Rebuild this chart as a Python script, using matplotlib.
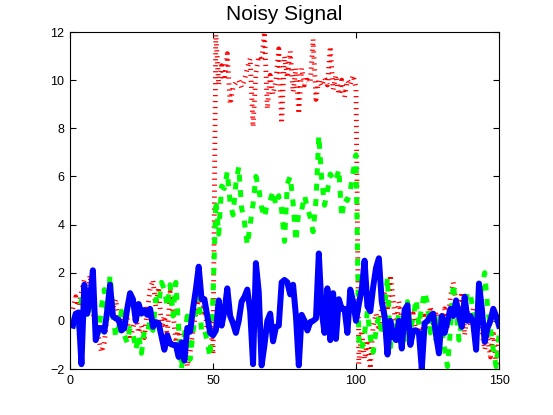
import numpy as np
import matplotlib
matplotlib.use("Agg")
import matplotlib.pyplot as plt

plt.rcParams['font.family'] = ['Liberation Sans', 'DejaVu Sans']
plt.rcParams['lines.scale_dashes'] = False

# sample index 1..150
t = np.arange(1, 151)

# red: step of height 10 between samples 51 and 100, plus noise
red = [0.5, 1.0, 0.6, 1.2, 1.7, 0.8, 1.9, 0.4, -0.2, -0.7,
       -1.3, -0.9, 0.2, 0.7, 0.5, 0.9, -0.1, 0.3, -0.4, 0.1,
       -0.8, -0.3, 0.2, -0.5, -0.2, -0.7, 0.4, 1.3, 1.7, 0.6,
       1.4, -0.3, 0.2, -0.6, 1.2, 0.4, -0.9, -0.3, -1.2, -0.6,
       -1.9, -1.3, -0.4, 0.3, 1.0, 0.2, 0.8, -0.5, 0.1, -1.4,
       11.9, 9.8, 10.6, 10.0, 11.1, 9.0, 9.7, 9.9, 10.0, 9.7,
       10.0, 10.5, 10.9, 8.05, 10.3, 11.0, 10.8, 12.0, 8.8, 10.2,
       9.4, 10.0, 11.3, 8.2, 11.0, 10.1, 11.2, 9.5, 10.5, 8.6,
       10.5, 9.8, 10.0, 9.9, 11.7, 9.2, 10.0, 9.75, 10.1, 9.8,
       11.4, 9.6, 10.2, 9.4, 10.0, 9.3, 10.0, 9.8, 10.2, 9.7,
       -1.8, -0.4, -1.6, -0.8, -2.0, -0.2, 0.3, -0.4, 0.6, 1.2,
       0.4, 1.9, 0.9, -0.3, 0.8, 0.1, -0.6, 0.5, -0.2, 0.3,
       -0.5, -0.1, -0.7, 0.2, -0.4, 0.6, -0.2, 0.4, -0.6, 0.0,
       0.5, -0.3, 1.0, 1.6, 0.8, 0.1, 1.2, -0.6, 0.4, -0.2,
       0.5, -0.5, 0.2, -0.4, -1.2, -0.6, -1.5, -0.4, -1.9, -0.8]

# green: step of height 5, plus noise
green = [0.0, 0.3, -0.3, 0.9, 1.2, 0.1, 0.6, 1.3, -0.1, -0.5,
         0.6, 1.3, 0.2, 1.9, 0.3, -0.7, -0.3, 0.4, -0.6, -0.9,
         -0.3, -0.5, -1.2, -0.6, -1.35, -0.4, -0.5, 0.0, -0.4, 0.9,
         0.7, 1.6, 1.3, 0.6, 1.5, 0.2, 1.6, -0.3, -2.0, -0.6,
         0.2, -1.6, -0.5, 0.6, 1.0, -0.4, -0.3, -0.9, -1.5, 1.0,
         5.0, 3.6, 5.6, 5.5, 6.2, 4.9, 4.4, 5.7, 6.4, 4.7,
         4.1, 3.15, 4.0, 4.85, 6.0, 5.5, 4.7, 4.3, 4.9, 5.0,
         5.4, 4.8, 5.2, 4.6, 3.3, 5.7, 6.0, 4.9, 3.3, 4.6,
         4.6, 5.2, 4.7, 4.3, 3.7, 5.0, 7.7, 5.9, 4.8, 5.4,
         6.1, 5.9, 5.8, 6.3, 4.3, 5.1, 5.0, 5.4, 6.2, 6.9,
         -0.8, -1.2, -0.5, 0.4, -0.7, -1.3, -0.4, 0.2, -0.6, 0.5,
         1.8, -1.1, 0.0, -0.4, 0.3, 0.1, -0.9, 0.8, -0.3, 0.1,
         0.9, -0.2, 0.6, 1.2, 0.7, -0.5, 0.2, -0.8, 0.3, -0.3,
         -1.2, -1.9, -0.4, 1.55, 0.5, -0.8, 0.1, 0.6, 1.2, 1.1,
         0.4, -0.5, 0.8, 1.4, 2.0, 0.6, -0.3, -1.2, -1.9, -0.6]

# blue: noise only
blue = [-0.2, 0.3, 0.35, -1.8, 1.5, 0.3, 0.9, 2.1, -0.8, -0.3,
        -0.3, -0.45, 0.4, 1.5, 0.2, 0.1, 0.05, -0.4, -0.3, 0.5,
        1.15, 0.9, 0.0, 0.7, 0.3, 0.45, 0.25, 0.5, -0.25, -0.05,
        -0.1, -0.65, -1.2, -0.6, -0.95, -1.0, -1.0, -1.5, -0.9, -1.65,
        -0.3, -0.45, 0.5, 1.3, 2.25, 0.9, 0.9, 0.2, -0.5, -0.6,
        -0.4, 0.85, -0.2, 0.4, 1.35, 0.2, -0.1, -0.5, 0.0, 0.8,
        1.0, 1.3, 0.4, -1.8, 2.4, 1.2, -1.85, -1.0, 0.0, 0.3,
        -0.85, -0.25, -0.2, 1.6, 1.7, 1.6, 1.1, 1.5, 0.2, -1.85,
        0.25, 0.0, -0.4, -0.05, 0.0, 0.1, 2.8, 0.4, -0.5, 1.35,
        -0.8, 1.15, -0.75, 0.9, 0.5, 0.5, -0.5, 1.3, 0.8, 0.0,
        0.7, 1.3, 2.5, 0.6, 0.4, 1.4, 2.2, 2.6, 0.8, 0.2,
        -1.4, 0.0, -0.65, -0.8, 0.0, -1.15, 0.45, 0.65, -1.0, -0.4,
        -0.4, -0.5, -2.0, -0.1, 0.0, 0.2, 0.3, -0.6, -1.35, 0.2,
        -0.5, 0.0, 0.5, 0.2, 0.85, 0.2, -0.25, 1.0, 0.0, 0.2,
        -0.1, -1.2, 1.55, 0.5, -0.87, -0.3, 0.0, 0.5, 0.2, -0.2]

fig = plt.figure(figsize=(5.53, 4.15), dpi=100)
ax = fig.add_axes([70 / 553, 46 / 415, 429 / 553, 337 / 415])

ax.plot(t, red, color=(1, 0, 0), lw=3.5, dashes=(0.9, 3.4))
ax.plot(t, green, color=(0, 1, 0), lw=3.6, dashes=(5.0, 6.1))
ax.plot(t, blue, color=(0, 0, 1), lw=4.3, solid_joinstyle='round')

ax.set_xlim(0, 150)
ax.set_ylim(-2, 12)
ax.set_xticks([0, 50, 100, 150])
ax.set_yticks([-2, 0, 2, 4, 6, 8, 10, 12])
ax.tick_params(direction='in', top=True, right=True, length=4, width=0.8,
               labelsize=9, pad=4)
for s in ax.spines.values():
    s.set_linewidth(0.8)

ax.set_title('Noisy Signal', fontsize=15, pad=9)

fig.savefig('out.png', dpi=100)
